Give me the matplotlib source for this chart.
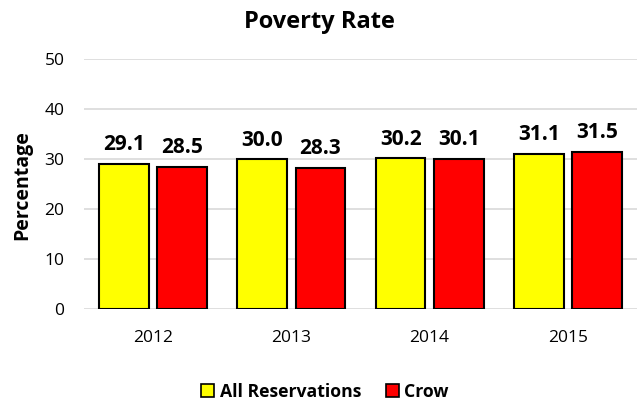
import matplotlib
matplotlib.use("Agg")
import matplotlib.pyplot as plt
import numpy as np
from matplotlib.patches import Patch

years = ["2012", "2013", "2014", "2015"]
all_res = [29.1, 30.0, 30.2, 31.1]
crow = [28.5, 28.3, 30.1, 31.5]
yticks = [0, 10, 20, 30, 40, 50]

plt.rcParams['font.family'] = ['Open Sans', 'DejaVu Sans']

fig = plt.figure(figsize=(6.37, 4.03), dpi=100)
ax = fig.add_axes([84/637, 1-309.3/403, (637-84)/637, 250/403])

x = np.arange(len(years))
w = 0.36
off = 0.21
b1 = ax.bar(x - off, all_res, w, color="#FFFF00", edgecolor="black", linewidth=1.5, zorder=3)
b2 = ax.bar(x + off, crow, w, color="#FF0000", edgecolor="black", linewidth=1.5, zorder=3)

for bars, vals in ((b1, all_res), (b2, crow)):
    for r, v in zip(bars, vals):
        ax.annotate(f"{v:.1f}", (r.get_x() + r.get_width()/2, v), xytext=(0, 6),
                    textcoords="offset points", ha="center", va="bottom",
                    fontsize=15, fontweight="bold")

ax.set_xlim(-0.5, 3.5)
ax.set_ylim(0, 50)
ax.set_yticks(yticks)
ax.set_xticks(x)
ax.set_xticklabels(years)
ax.tick_params(axis="both", length=0, labelsize=12.5)
ax.tick_params(axis="y", pad=14)
ax.tick_params(axis="x", pad=15)
ax.yaxis.grid(True, color="#D9D9D9", linewidth=1.2, zorder=0)
ax.set_axisbelow(True)
for s in ax.spines.values():
    s.set_visible(False)

fig.text(22/637, 1-185/403, "Percentage", rotation=90, ha="center", va="center",
         fontsize=14, fontweight="bold")
fig.text(319/637, 1-22/403, "Poverty Rate", ha="center", va="center",
         fontsize=17, fontweight="bold")

handles = [Patch(facecolor="#FFFF00", edgecolor="black", linewidth=1.2),
           Patch(facecolor="#FF0000", edgecolor="black", linewidth=1.2)]
fig.legend(handles, ["All Reservations", "Crow"], loc="center", bbox_to_anchor=(325/637, 1-392/403),
           ncol=2, frameon=False, prop={"weight": "bold", "size": 12.7},
           handlelength=0.75, handleheight=0.75, handletextpad=0.3, columnspacing=1.4)

fig.savefig("out.png", dpi=100)
